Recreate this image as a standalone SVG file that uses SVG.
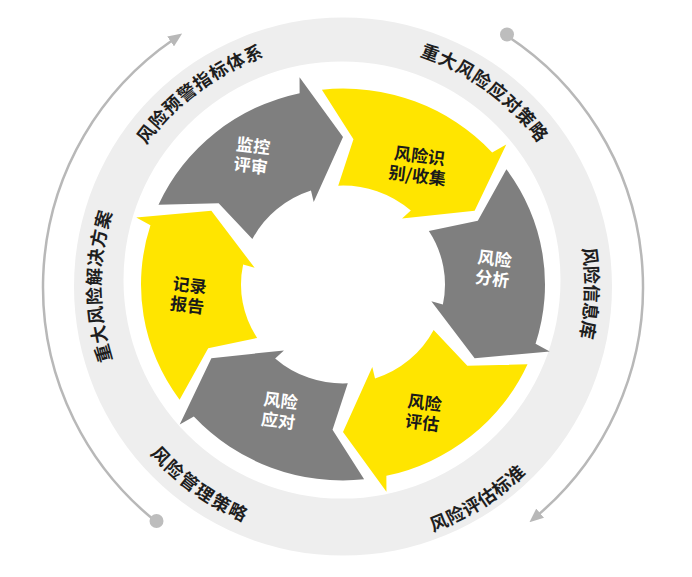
<svg xmlns="http://www.w3.org/2000/svg" width="692" height="577" viewBox="0 0 692 577">
<defs>
<style>
.ring{fill:#eeeeee;fill-rule:evenodd}
.rt{font-family:"Noto Sans CJK SC","Noto Sans",sans-serif;font-weight:bold;font-size:18px;fill:#1e1e1e;text-anchor:middle}
.lb{font-family:"Noto Sans CJK SC","Noto Sans",sans-serif;font-weight:bold;font-size:17px;text-anchor:middle}
.w{fill:#ffffff}
.k{fill:#1a1a1a}
.y{fill:#ffe500}
.g{fill:#7f7f7f}
.guide{fill:none;stroke:#b8b8b8;stroke-width:2.5}
.dot{fill:#bdbdbd}
</style>
<marker id="ah" viewBox="0 0 14 12" refX="3" refY="6" markerWidth="14" markerHeight="12" markerUnits="userSpaceOnUse" orient="auto"><path d="M0,0 L14,6 L0,12 Z" fill="#b8b8b8"/></marker>
<path id="arw" d="M-21.11,-200.89 A202,202 0 0 1 149.17,-136.21 L163.27,-144.45 L131.64,-76.00 L59.05,-67.92 L67.85,-76.16 A102,102 0 0 0 -4.80,-101.89 L10.46,-149.63 Z"/>
<path id="p1" d="M102.40,313.84 A242.2,242.2 0 0 1 439.19,63.72"/>
<path id="p2" d="M245.26,64.40 A242.2,242.2 0 0 1 583.78,312.16"/>
<path id="p3" d="M470.27,79.93 A242.2,242.2 0 0 1 457.82,499.25"/>
<path id="p4" d="M221.30,517.80 A261.8,261.8 0 0 0 604.59,275.49"/>
<path id="p5" d="M88.49,260.37 A255.8,255.8 0 0 0 448.06,519.23"/>
<path id="p6" d="M221.9,495.75 A242.2,242.2 0 0 1 221.9,76.25"/>
</defs>
<rect width="692" height="577" fill="#ffffff"/>
<g id="outer-ring">
<path class="ring" d="M74,286.5 A269,269 0 1 0 612,286.5 A269,269 0 1 0 74,286.5 Z M123.5,280 A218.5,218.5 0 1 1 560.5,280 A218.5,218.5 0 1 1 123.5,280 Z"/>
<text id="t-warning" class="rt" letter-spacing="0.8"><textPath href="#p1" startOffset="50%">风险预警指标体系</textPath></text>
<text id="t-major-strategy" class="rt" letter-spacing="0.8"><textPath href="#p2" startOffset="50%">重大风险应对策略</textPath></text>
<text id="t-info" class="rt" letter-spacing="0"><textPath href="#p3" startOffset="50%">风险信息库</textPath></text>
<text id="t-standard" class="rt" letter-spacing="0.6"><textPath href="#p4" startOffset="50%">风险评估标准</textPath></text>
<text id="t-mgmt" class="rt" letter-spacing="1.7"><textPath href="#p5" startOffset="50%">风险管理策略</textPath></text>
<text id="t-solution" class="rt" letter-spacing="0.8"><textPath href="#p6" startOffset="50%">重大风险解决方案</textPath></text>
</g>
<g id="connectors">
<path class="guide" d="M155.86,521.47 A300,300 0 0 1 173.08,39.76" marker-end="url(#ah)"/>
<circle class="dot" cx="156.5" cy="521" r="7"/>
<path class="guide" d="M506.39,35.40 A300,300 0 0 1 537.84,515.12" marker-end="url(#ah)"/>
<circle class="dot" cx="507" cy="34.5" r="7"/>
</g>
<g id="node-identify">
<use href="#arw" class="y" transform="translate(343,284.5) scale(1,0.97) rotate(0)"/>
<g transform="translate(418.5,165.5) rotate(7)"><text class="lb k"><tspan x="0" y="-3.5">风险识</tspan><tspan x="0" y="16.5">别/收集</tspan></text></g>
</g>
<g id="node-analysis">
<use href="#arw" class="g" transform="translate(343,284.5) scale(1,0.97) rotate(60)"/>
<g transform="translate(493.5,268.5) rotate(7)"><text class="lb w"><tspan x="0" y="-3.5">风险</tspan><tspan x="0" y="16.5">分析</tspan></text></g>
</g>
<g id="node-assess">
<use href="#arw" class="y" transform="translate(343,284.5) scale(1,0.97) rotate(120)"/>
<g transform="translate(423.5,412.5) rotate(7)"><text class="lb k"><tspan x="0" y="-3.5">风险</tspan><tspan x="0" y="16.5">评估</tspan></text></g>
</g>
<g id="node-response">
<use href="#arw" class="g" transform="translate(343,284.5) scale(1,0.97) rotate(180)"/>
<g transform="translate(279.5,410.5) rotate(7)"><text class="lb w"><tspan x="0" y="-3.5">风险</tspan><tspan x="0" y="16.5">应对</tspan></text></g>
</g>
<g id="node-report">
<use href="#arw" class="y" transform="translate(343,284.5) scale(1,0.97) rotate(240)"/>
<g transform="translate(188.5,295) rotate(7)"><text class="lb k"><tspan x="0" y="-3.5">记录</tspan><tspan x="0" y="16.5">报告</tspan></text></g>
</g>
<g id="node-monitor">
<use href="#arw" class="g" transform="translate(343,284.5) scale(1,0.97) rotate(300)"/>
<g transform="translate(252,155.5) rotate(7)"><text class="lb w"><tspan x="0" y="-3.5">监控</tspan><tspan x="0" y="16.5">评审</tspan></text></g>
</g>
</svg>
